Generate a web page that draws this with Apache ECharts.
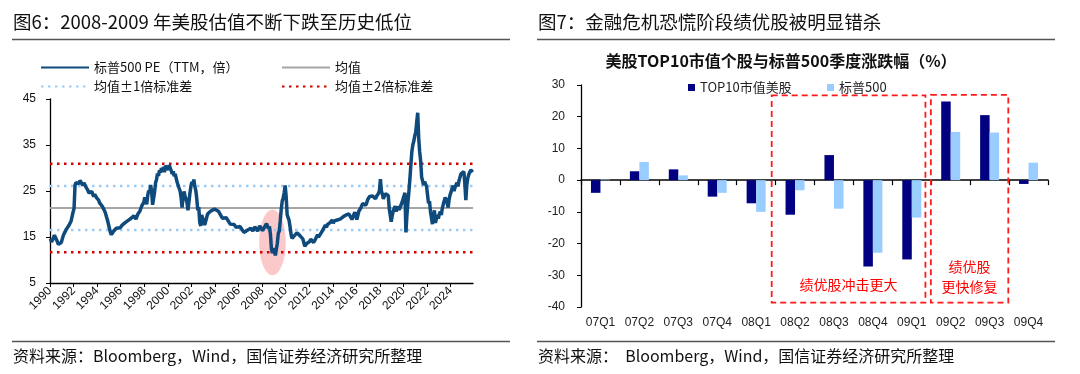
<!DOCTYPE html>
<html><head><meta charset="utf-8">
<script src="https://cdn.jsdelivr.net/npm/echarts@6/dist/echarts.min.js"></script>
<style>html,body{margin:0;padding:0;background:#fff;}#c{width:1080px;height:374px;}</style>
</head><body><div id="c"></div>
<script>
// ---------------- DATA ----------------
// Left chart: S&P 500 trailing PE (monthly readings from the picture)
const peDates = [
'1990-01','1990-02','1990-03','1990-04','1990-05','1990-06','1990-07','1990-08','1990-09','1990-10','1990-11','1990-12',
'1991-01','1991-02','1991-03','1991-04','1991-05','1991-06','1991-07','1991-08','1991-09','1991-10','1991-11','1991-12',
'1992-01','1992-02','1992-03','1992-04','1992-05','1992-06','1992-07','1992-08','1992-09','1992-10','1992-11','1992-12',
'1993-01','1993-02','1993-03','1993-04','1993-05','1993-06','1993-07','1993-08','1993-09','1993-10','1993-11','1993-12',
'1994-01','1994-02','1994-03','1994-04','1994-05','1994-06','1994-07','1994-08','1994-09','1994-10','1994-11','1994-12',
'1995-01','1995-02','1995-03','1995-04','1995-05','1995-06','1995-08','1995-10','1995-12',
'1996-02','1996-04','1996-06','1996-08','1996-10','1996-12',
'1997-02','1997-04','1997-06','1997-08','1997-10','1997-12',
'1998-01','1998-02','1998-03','1998-04','1998-05','1998-06','1998-07','1998-08','1998-09','1998-10','1998-11','1998-12',
'1999-01','1999-02','1999-03','1999-04','1999-05','1999-06','1999-07','1999-08','1999-09','1999-10','1999-11','1999-12',
'2000-01','2000-02','2000-03','2000-04','2000-05','2000-06','2000-07','2000-08','2000-09','2000-10','2000-11','2000-12',
'2001-01','2001-02','2001-03','2001-04','2001-05','2001-06','2001-07','2001-08','2001-09','2001-10','2001-11','2001-12',
'2002-01','2002-02','2002-03','2002-04','2002-05','2002-06','2002-07','2002-08','2002-09','2002-10','2002-11','2002-12',
'2003-01','2003-02','2003-03','2003-04','2003-05','2003-06','2003-08','2003-10','2003-12',
'2004-02','2004-04','2004-06','2004-08','2004-10','2004-12',
'2005-02','2005-04','2005-06','2005-08','2005-10','2005-12',
'2006-02','2006-04','2006-06','2006-07','2006-09','2006-11',
'2007-01','2007-03','2007-05','2007-07','2007-08','2007-10','2007-12',
'2008-01','2008-03','2008-05','2008-07','2008-08','2008-09','2008-10','2008-11','2008-12',
'2009-01','2009-02','2009-03','2009-04','2009-05','2009-06','2009-07','2009-08','2009-09','2009-10','2009-11','2009-12',
'2010-01','2010-02','2010-03','2010-04','2010-05','2010-06','2010-07','2010-08','2010-09','2010-10','2010-11','2010-12',
'2011-01','2011-02','2011-03','2011-04','2011-05','2011-06','2011-07','2011-08','2011-09','2011-10','2011-11','2011-12',
'2012-01','2012-02','2012-03','2012-04','2012-05','2012-06','2012-07','2012-08','2012-09','2012-10','2012-11','2012-12',
'2013-01','2013-02','2013-03','2013-04','2013-05','2013-06','2013-07','2013-08','2013-09','2013-10','2013-11','2013-12',
'2014-01','2014-02','2014-03','2014-04','2014-05','2014-06','2014-07','2014-08','2014-09','2014-10','2014-11','2014-12',
'2015-01','2015-02','2015-03','2015-04','2015-05','2015-06','2015-07','2015-08','2015-09','2015-10','2015-11','2015-12',
'2016-01','2016-02','2016-03','2016-04','2016-05','2016-06','2016-07','2016-08','2016-09','2016-10','2016-11','2016-12',
'2017-01','2017-02','2017-03','2017-04','2017-05','2017-06','2017-07','2017-08','2017-09','2017-10','2017-11','2017-12',
'2018-01','2018-02','2018-03','2018-04','2018-05','2018-06','2018-07','2018-08','2018-09','2018-10','2018-11','2018-12',
'2019-01','2019-02','2019-03','2019-04','2019-05','2019-06','2019-07','2019-08','2019-09','2019-10','2019-11','2019-12',
'2020-01','2020-02','2020-03','2020-04','2020-05','2020-06','2020-07','2020-08','2020-09','2020-10','2020-11','2020-12',
'2021-01','2021-02','2021-03','2021-04','2021-05','2021-06','2021-07','2021-08','2021-09','2021-10','2021-11','2021-12',
'2022-01','2022-02','2022-03','2022-04','2022-05','2022-06','2022-07','2022-08','2022-09','2022-10','2022-11','2022-12',
'2023-01','2023-02','2023-03','2023-04','2023-05','2023-06','2023-07','2023-08','2023-09','2023-10','2023-11','2023-12',
'2024-01','2024-02','2024-03','2024-04','2024-05','2024-06','2024-07','2024-08','2024-09','2024-10','2024-11','2024-12',
'2025-01','2025-02','2025-03','2025-04','2025-05','2025-06','2025-07','2025-08','2025-09','2025-10','2025-11'
];
const peValues = [
14.6,13.9,14.3,14.8,15.4,15.6,15.2,14.0,13.4,13.0,13.5,13.8,
14.0,15.3,15.8,16.0,16.6,16.2,17.0,17.6,17.9,18.5,18.9,20.4,
21.2,26.3,26.8,26.5,27.0,26.6,27.3,27.5,26.9,26.2,26.8,26.5,
25.9,25.6,25.2,24.6,25.0,24.4,24.9,24.5,23.8,24.3,24.0,23.5,
23.6,23.0,22.4,22.6,22.0,21.6,21.2,20.7,20.2,19.4,18.7,17.8,
16.9,16.0,15.5,15.8,16.2,16.6,16.9,17.3,17.0,
17.6,17.8,18.3,17.9,18.9,19.2,
19.6,18.9,20.0,20.6,21.8,22.5,
23.6,23.2,22.1,24.0,25.1,24.6,26.3,25.0,22.0,21.6,24.8,26.8,
27.5,28.8,28.3,29.5,29.0,30.0,29.4,30.2,29.1,30.5,30.9,30.2,
29.6,30.6,31.0,29.4,28.7,29.3,28.2,28.7,27.8,26.9,26.5,25.6,
25.0,23.6,21.4,23.8,24.9,24.0,23.2,22.5,20.8,22.6,24.5,26.0,
27.0,26.4,27.5,26.0,25.1,23.3,20.8,21.5,18.2,17.4,19.8,19.0,
18.6,17.6,17.9,19.2,20.0,20.3,20.6,20.9,21.1,
21.4,20.6,20.2,19.1,18.8,19.2,
18.5,17.8,18.0,17.7,17.1,17.5,
17.3,17.0,16.0,15.8,16.4,16.8,
16.9,16.3,17.2,17.0,16.3,17.4,17.0,
16.4,16.2,17.9,16.8,17.3,15.6,12.4,11.5,12.6,
12.2,11.0,11.2,13.6,15.8,16.3,18.5,21.0,22.8,23.5,24.6,26.2,
23.8,19.9,19.2,18.6,17.2,15.6,14.7,14.6,15.2,15.4,15.6,15.9,
16.1,16.0,15.3,15.7,15.2,14.6,14.5,13.0,12.6,13.6,13.2,13.4,
14.0,14.5,14.8,14.5,13.8,14.2,14.6,15.0,15.5,15.0,14.7,15.2,
16.0,16.3,16.8,17.0,17.6,17.1,17.7,17.4,17.9,18.2,18.5,18.7,
18.0,18.5,18.4,18.3,18.7,18.9,18.8,18.9,19.1,18.6,19.4,19.2,
19.0,19.8,19.5,19.8,20.0,19.6,20.1,18.8,18.5,19.9,20.4,20.0,
18.8,19.2,20.6,21.0,21.3,21.4,22.3,22.6,22.4,21.9,22.4,23.1,
23.0,23.8,23.6,23.5,23.9,24.1,23.6,23.3,23.8,24.2,24.5,25.0,
27.6,25.0,24.3,23.3,23.9,24.4,24.2,24.6,24.0,21.2,21.0,18.3,
19.6,20.6,21.0,21.7,20.5,21.6,22.0,20.9,21.4,21.8,22.5,23.2,
23.6,24.6,16.0,19.8,22.5,24.8,27.5,30.6,33.5,35.0,35.8,37.0,
37.8,40.0,42.0,36.5,33.5,31.5,28.0,27.2,26.3,27.0,26.5,26.0,
24.2,22.3,22.8,20.5,19.2,17.8,19.5,20.8,18.1,18.4,19.8,19.0,
20.0,20.5,19.8,21.2,21.5,22.9,23.6,23.1,22.4,21.4,23.2,24.2,
24.8,25.6,26.2,25.0,25.8,26.3,26.8,26.0,27.2,27.6,28.7,28.4,
28.6,29.2,26.6,23.0,26.4,27.8,28.6,29.0,29.6,29.9,29.1
];
const peMean = 21.3;
const pePlus1Sd = 26.1;
const peMinus1Sd = 16.5;
const pePlus2Sd = 30.9;
const peMinus2Sd = 11.7;
const yearTicks = [1990,1992,1994,1996,1998,2000,2002,2004,2006,2008,2010,2012,2014,2016,2018,2020,2022,2024];

// Right chart: quarterly returns (%)
const quarters = ['07Q1','07Q2','07Q3','07Q4','08Q1','08Q2','08Q3','08Q4','09Q1','09Q2','09Q3','09Q4'];
const top10Returns = [-4.0, 2.8, 3.4, -5.2, -7.3, -10.9, 7.9, -27.2, -25.0, 24.8, 20.5, -1.2];
const spxReturns   = [0.2, 5.7, 1.5, -4.0, -10.0, -3.2, -9.0, -22.9, -11.8, 15.2, 15.0, 5.5];

// ---------------- LAYOUT ----------------
const CJK = '"Noto Sans CJK SC", "Noto Sans", sans-serif';
const NUM = '"Liberation Sans", Arial, sans-serif';
const xStart = 1990, xEnd = 2025.9;
const highlightCenter = [2008.88, 13.85];
const highlightRadius = [1.13, 7.15];

const toYear = s => { const [y, m] = s.split('-').map(Number); return y + (m - 0.5) / 12; };
const pePoints = peDates.map((d, i) => [toYear(d), peValues[i]]);
const flat = v => [[xStart, v], [xEnd, v]];

const NAME_PE = '标普500 PE（TTM，倍）';
const NAME_MEAN = '均值';
const NAME_1SD = '均值±1倍标准差';
const NAME_2SD = '均值±2倍标准差';
const dotBlue = { color: '#9ccbf6', width: 2.5, type: [2.5, 4.5] };
const dotRed = { color: '#d40000', width: 2.5, type: [2.5, 4.5] };

const legendBase = { orient: 'horizontal', padding: 0, itemWidth: 48, itemHeight: 14,
  itemStyle: { opacity: 0 },
  textStyle: { fontFamily: CJK, fontSize: 13, color: '#111' }, selectedMode: false };
const legendBar = { orient: 'horizontal', padding: 0, itemWidth: 7, itemHeight: 7, icon: 'rect',
  textStyle: { fontFamily: CJK, fontSize: 13, color: '#222' }, selectedMode: false };

const chart = echarts.init(document.getElementById('c'), null, { renderer: 'canvas' });
const option = {
  animation: false,
  backgroundColor: '#fff',
  legend: [
    Object.assign({ data: [NAME_PE], left: 40, top: 61 }, legendBase),
    Object.assign({ data: [NAME_MEAN], left: 281, top: 61 }, legendBase),
    Object.assign({ data: [NAME_1SD], left: 40, top: 80 }, legendBase),
    Object.assign({ data: [NAME_2SD], left: 281, top: 80 }, legendBase),
    Object.assign({ data: ['TOP10市值美股'], left: 688, top: 81 }, legendBar),
    Object.assign({ data: ['标普500'], left: 827, top: 81 }, legendBar)
  ],
  grid: [
    { left: 50, top: 99, width: 423, height: 184 },
    { left: 581, top: 85, width: 467, height: 222 }
  ],
  xAxis: [
    { gridIndex: 0, type: 'value', min: xStart, max: xEnd, interval: 2,
      splitLine: { show: false },
      axisLine: { show: true, onZero: false, lineStyle: { color: '#000', width: 1.3 } },
      axisTick: { show: true, length: 4, lineStyle: { color: '#000' }, customValues: yearTicks },
      axisLabel: { rotate: 45, margin: 6, fontFamily: NUM, fontSize: 12, color: '#111',
        customValues: yearTicks, formatter: v => String(Math.round(v)) } },
    { gridIndex: 1, type: 'category', data: quarters,
      axisLine: { show: true, onZero: true, lineStyle: { color: '#000', width: 1.5 } },
      axisTick: { show: true, length: 5, interval: 0, lineStyle: { color: '#000', width: 1.2 } },
      axisLabel: { show: false } },
    { gridIndex: 1, type: 'category', data: quarters, position: 'bottom',
      axisLine: { show: false, onZero: false }, axisTick: { show: false },
      axisLabel: { interval: 0, margin: 10, fontFamily: NUM, fontSize: 12, color: '#222' } }
  ],
  yAxis: [
    { gridIndex: 0, type: 'value', min: 5, max: 45, interval: 10,
      splitLine: { show: false },
      axisLine: { show: true, lineStyle: { color: '#000', width: 1.3 } },
      axisTick: { show: true, length: 4, lineStyle: { color: '#000' } },
      axisLabel: { margin: 14, fontFamily: NUM, fontSize: 12, color: '#111' } },
    { gridIndex: 1, type: 'value', min: -40, max: 30, interval: 10,
      splitLine: { show: false },
      axisLine: { show: true, lineStyle: { color: '#000', width: 1.3 } },
      axisTick: { show: true, length: 4, lineStyle: { color: '#000' } },
      axisLabel: { margin: 16, fontFamily: NUM, fontSize: 12, color: '#222' } }
  ],
  series: [
    { type: 'custom', xAxisIndex: 0, yAxisIndex: 0, silent: true, z: 1,
      data: [[highlightCenter[0], highlightCenter[1], highlightRadius[0], highlightRadius[1]]],
      renderItem: (params, api) => {
        const c = api.coord([api.value(0), api.value(1)]);
        const s = api.size([api.value(2), api.value(3)]);
        return { type: 'circle', x: c[0], y: c[1], scaleX: s[0] / s[1], scaleY: 1,
          shape: { cx: 0, cy: 0, r: s[1] }, style: { fill: '#fbc9c9' } };
      } },
    { name: NAME_MEAN, type: 'line', xAxisIndex: 0, yAxisIndex: 0, data: flat(peMean),
      symbol: 'none', lineStyle: { color: '#a6a6a6', width: 2 }, itemStyle: { color: '#a6a6a6' }, z: 3 },
    { name: NAME_1SD, type: 'line', xAxisIndex: 0, yAxisIndex: 0, data: flat(pePlus1Sd),
      symbol: 'none', lineStyle: dotBlue, itemStyle: { color: dotBlue.color }, z: 2 },
    { name: NAME_1SD, type: 'line', xAxisIndex: 0, yAxisIndex: 0, data: flat(peMinus1Sd),
      symbol: 'none', lineStyle: dotBlue, itemStyle: { color: dotBlue.color }, z: 2 },
    { name: NAME_2SD, type: 'line', xAxisIndex: 0, yAxisIndex: 0, data: flat(pePlus2Sd),
      symbol: 'none', lineStyle: dotRed, itemStyle: { color: dotRed.color }, z: 2 },
    { name: NAME_2SD, type: 'line', xAxisIndex: 0, yAxisIndex: 0, data: flat(peMinus2Sd),
      symbol: 'none', lineStyle: dotRed, itemStyle: { color: dotRed.color }, z: 2 },
    { name: NAME_PE, type: 'line', xAxisIndex: 0, yAxisIndex: 0, data: pePoints,
      symbol: 'none', lineStyle: { color: '#0e4a7c', width: 3.5 }, itemStyle: { color: '#0e4a7c' }, z: 4 },
    { name: 'TOP10市值美股', type: 'bar', xAxisIndex: 1, yAxisIndex: 1, data: top10Returns,
      barWidth: 9.5, barGap: '0%', itemStyle: { color: '#000080' } },
    { name: '标普500', type: 'bar', xAxisIndex: 1, yAxisIndex: 1, data: spxReturns,
      barWidth: 9.5, barGap: '0%', itemStyle: { color: '#99ccff' } }
  ]
};
chart.setOption(option);

// ---------- annotations & frame text ----------
function catX(frac) {
  const c0 = chart.convertToPixel({ xAxisIndex: 1 }, quarters[0]);
  const c1 = chart.convertToPixel({ xAxisIndex: 1 }, quarters[1]);
  const bw = c1 - c0;
  return c0 - bw / 2 + frac * bw;
}
const valY = v => chart.convertToPixel({ yAxisIndex: 1 }, v);
const boxes = [
  { from: 4.9, to: 8.85, top: 26.7, bottom: -38.6, text: '绩优股冲击更大', textAt: -33 },
  { from: 8.99, to: 10.98, top: 26.9, bottom: -38.6, text: '绩优股\n更快修复', textAt: -30.5 }
];
const g = [];
const textStyle = (t, x, y, size, extra) => Object.assign({ type: 'text', x, y,
  style: Object.assign({ text: t, fontFamily: CJK, fontSize: size, fill: '#111', verticalAlign: 'middle', align: 'left' }, extra || {}) });
// titles
g.push(textStyle('图6：2008-2009 年美股估值不断下跌至历史低位', 13, 22, 18.5));
g.push(textStyle('图7：金融危机恐慌阶段绩优股被明显错杀', 538, 22, 18.5));
// rules
[[12, 510], [537, 1055]].forEach(([a, b]) => {
  g.push({ type: 'line', shape: { x1: a, y1: 39.5, x2: b, y2: 39.5 }, style: { stroke: '#555', lineWidth: 1.3 } });
  g.push({ type: 'line', shape: { x1: a, y1: 341.5, x2: b, y2: 341.5 }, style: { stroke: '#555', lineWidth: 1.3 } });
});
// footers
g.push(textStyle('资料来源：Bloomberg，Wind，国信证券经济研究所整理', 13, 356, 16));
g.push(textStyle('资料来源：  Bloomberg，Wind，国信证券经济研究所整理', 538, 356, 16));
// right chart title
g.push(textStyle('美股TOP10市值个股与标普500季度涨跌幅（%）', 781, 61, 16, { align: 'center', fontWeight: 'bold', fill: '#111' }));
// boxes
boxes.forEach(b => {
  const x1 = catX(b.from), x2 = catX(b.to), y1 = valY(b.top), y2 = valY(b.bottom);
  g.push({ type: 'rect', shape: { x: x1, y: y1, width: x2 - x1, height: y2 - y1 },
    style: { fill: 'none', stroke: '#ff1a1a', lineWidth: 1.8, lineDash: [6, 4] }, z: 10 });
  g.push({ type: 'text', x: (x1 + x2) / 2, y: valY(b.textAt), z: 10,
    style: { text: b.text, fontFamily: CJK, fontSize: 14, fill: '#ff0000', align: 'center', verticalAlign: 'middle', lineHeight: 20 } });
});
chart.setOption({ graphic: g });
</script>
</body></html>
